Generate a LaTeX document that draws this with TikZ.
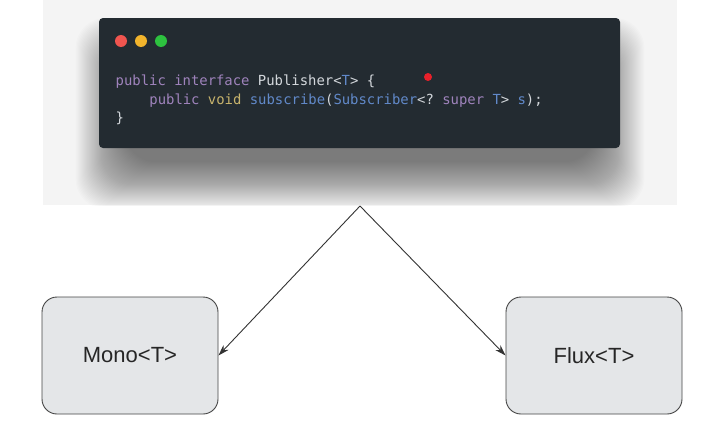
\documentclass[tikz,border=0pt]{standalone}
\usepackage{fontspec}
\setmainfont{Liberation Sans}
\setmonofont{DejaVu Sans Mono}
\usetikzlibrary{arrows.meta}
\definecolor{bandgray}{HTML}{F4F4F4}
\definecolor{winbg}{HTML}{232B31}
\definecolor{kw}{HTML}{9F83BC}
\definecolor{vd}{HTML}{C7B36C}
\definecolor{bl}{HTML}{6189C9}
\definecolor{pl}{HTML}{D3D7DB}
\definecolor{tlred}{HTML}{F0554F}
\definecolor{tlyel}{HTML}{F2B42C}
\definecolor{tlgrn}{HTML}{2DC23F}
\definecolor{dotred}{HTML}{E8202A}
\definecolor{boxfill}{HTML}{E4E6E8}
\definecolor{boxline}{HTML}{454545}
\definecolor{conncol}{HTML}{333333}
\tikzset{
  window/.style={fill=winbg, rounded corners=4pt, inner sep=0pt, minimum width=521pt, minimum height=130pt},
  light/.style={circle, inner sep=0pt, minimum size=12pt},
  codeline/.style={anchor=base west, inner sep=0pt, font=\ttfamily\fontsize{13.9}{18}\selectfont, text=pl},
  box/.style={draw=boxline, line width=0.9pt, fill=boxfill, rounded corners=15pt, minimum width=176pt, minimum height=117pt, font=\fontsize{22}{26}\selectfont, text=black!85},
  conn/.style={draw=conncol, line width=0.9pt, -{Stealth[length=11pt,width=7pt]}}
}
\begin{document}
\begin{tikzpicture}[x=1pt,y=-1pt]
\useasboundingbox (0,0) rectangle (715,431);
\fill[white] (0,0) rectangle (715,431);
\fill[bandgray] (43,0) rectangle (677,205);
\begin{scope}
  \clip (43,0) rectangle (677,205);
  \foreach \k in {0,...,47} {
    \fill[black, opacity=0.0125, rounded corners=30pt] (125-\k*1.05, 65-\k*1.0) rectangle (595+\k*1.05, 162+\k*1.0);
  }
\end{scope}
\node[window] (win) at (359.5,83) {};
\node[light, fill=tlred] (lr) at (121,41) {};
\node[light, fill=tlyel] (ly) at (141,41) {};
\node[light, fill=tlgrn] (lg) at (161,41) {};
\node[codeline] (c1) at (115.5,85) {\textcolor{kw}{public} \textcolor{kw}{interface} Publisher<\textcolor{bl}{T}> \{};
\node[codeline] (c2) at (149.2,104) {\textcolor{kw}{public} \textcolor{vd}{void} \textcolor{bl}{subscribe}(\textcolor{bl}{Subscriber}<? \textcolor{kw}{super} \textcolor{bl}{T}> \textcolor{bl}{s});};
\node[codeline] (c3) at (115.5,122.5) {\}};
\node[circle, fill=dotred, inner sep=0pt, minimum size=8pt] (dot) at (428,77) {};
\node[box] (mono) at (130,355.5) {Mono<T>};
\node[box] (flux) at (594,355.5) {Flux<T>};
\coordinate (apex) at (360,206);
\draw[conn] (apex) -- (mono.east);
\draw[conn] (apex) -- (flux.west);
\end{tikzpicture}
\end{document}
